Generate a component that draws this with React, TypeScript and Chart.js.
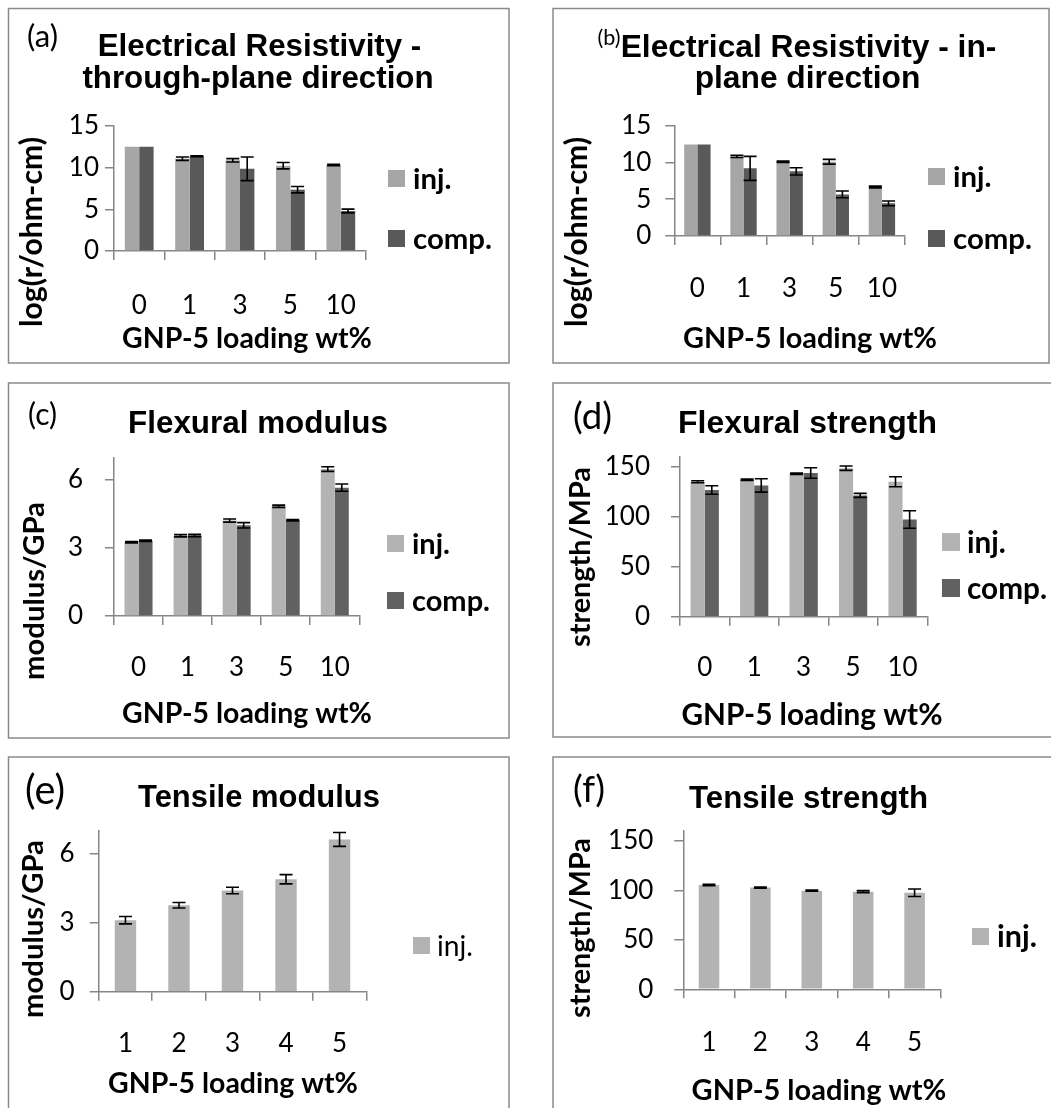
import React, { useEffect, useRef } from "react";
import { Chart, registerables } from "chart.js";
Chart.register(...registerables);

// ---------- data ----------
const resistLoadings = ["0", "1", "3", "5", "10"];
const tensileLoadings = ["1", "2", "3", "4", "5"];

const throughInj = [12.52, 11.08, 10.88, 10.24, 10.32];
const throughInjErr = [0, 0.2, 0.2, 0.38, 0.07];
const throughComp = [12.52, 11.36, 9.86, 7.36, 4.8];
const throughCompErr = [0, 0.05, 1.42, 0.38, 0.22];

const inPlaneInj = [12.46, 10.83, 10.1, 10.1, 6.66];
const inPlaneInjErr = [0, 0.15, 0.1, 0.32, 0.12];
const inPlaneComp = [12.46, 9.2, 8.79, 5.66, 4.44];
const inPlaneCompErr = [0, 1.63, 0.5, 0.45, 0.32];

const flexModInj = [3.25, 3.54, 4.21, 4.84, 6.48];
const flexModInjErr = [0.03, 0.05, 0.07, 0.05, 0.1];
const flexModComp = [3.32, 3.55, 4.0, 4.22, 5.66];
const flexModCompErr = [0.03, 0.05, 0.12, 0.03, 0.16];

const flexStrInj = [135, 137, 143, 148.5, 135];
const flexStrInjErr = [1, 0.7, 0.7, 2.2, 5];
const flexStrComp = [126.7, 131.3, 143.7, 121.3, 97.2];
const flexStrCompErr = [4.3, 6.7, 5.3, 2, 8.8];

const tenModInj = [3.11, 3.76, 4.4, 4.89, 6.62];
const tenModInjErr = [0.16, 0.12, 0.14, 0.2, 0.3];

const tenStrInj = [105.5, 102.8, 99.7, 98.7, 97.6];
const tenStrInjErr = [0.7, 0.5, 0.6, 1, 3.8];

const seriesNames = ["inj.", "comp."];
const xAxisTitle = "GNP-5 loading wt%";

// ---------- styles ----------
const SANS = "Lato, 'Open Sans', sans-serif";
const TITLE_FONT = "'Liberation Sans', Arial, sans-serif";
const AXIS = "#868686";
const FRAME = "#8a8a8a";
const TICK_SIZE = 26;

type Series = { label: string; values: number[]; errors: number[]; color: string };
type Spec = {
  cell: { x: number; y: number; w: number; h: number };
  border: { x1: number; y1: number; x2: number; y2: number };
  area: { left: number; right: number; top: number; bottom: number };
  labels: string[];
  series: Series[];
  yMax: number;
  yStep: number;
  yPad: number;
  xPad: number;
  letter: { text: string; cx: number; cy: number; w: number };
  title: { lines: string[]; cx: number[]; base: number[]; w: number[] };
  yTitle: { text: string; cx: number; cy: number; len: number };
  xTitle: { cx: number; base: number; w: number };
  legend: { x: number; sq: number; tops: number[]; textX: number; bold: boolean; fitText: string; fitW: number };
};

const specs: Spec[] = [
  {
    cell: { x: 0, y: 0, w: 531, h: 372 },
    border: { x1: 8.5, y1: 8.5, x2: 509, y2: 363 },
    area: { left: 114, right: 366, top: 126, bottom: 251 },
    labels: resistLoadings,
    series: [
      { label: seriesNames[0], values: throughInj, errors: throughInjErr, color: "#a6a6a6" },
      { label: seriesNames[1], values: throughComp, errors: throughCompErr, color: "#595959" },
    ],
    yMax: 15, yStep: 5, yPad: 6, xPad: 30,
    letter: { text: "(a)", cx: 42.5, cy: 36.5, w: 31 },
    title: { lines: ["Electrical Resistivity -", "through-plane direction"], cx: [259.5, 258], base: [56, 88], w: [325, 350] },
    yTitle: { text: "log(r/ohm-cm)", cx: 32, cy: 232, len: 190 },
    xTitle: { cx: 247, base: 348, w: 250 },
    legend: { x: 388, sq: 17, tops: [170, 230], textX: 413, bold: true, fitText: "comp.", fitW: 79 },
  },
  {
    cell: { x: 531, y: 0, w: 520, h: 372 },
    border: { x1: 553, y1: 8.5, x2: 1049, y2: 363 },
    area: { left: 674.3, right: 905, top: 125.7, bottom: 236 },
    labels: resistLoadings,
    series: [
      { label: seriesNames[0], values: inPlaneInj, errors: inPlaneInjErr, color: "#a6a6a6" },
      { label: seriesNames[1], values: inPlaneComp, errors: inPlaneCompErr, color: "#595959" },
    ],
    yMax: 15, yStep: 5, yPad: 14, xPad: 28,
    letter: { text: "(b)", cx: 609, cy: 38, w: 23 },
    title: { lines: ["Electrical Resistivity - in-", "plane direction"], cx: [808.5, 807.5], base: [57, 88], w: [377, 225] },
    yTitle: { text: "log(r/ohm-cm)", cx: 577, cy: 232, len: 190 },
    xTitle: { cx: 810, base: 348, w: 254 },
    legend: { x: 928, sq: 17, tops: [168, 230], textX: 953, bold: true, fitText: "comp.", fitW: 79 },
  },
  {
    cell: { x: 0, y: 372, w: 531, h: 375 },
    border: { x1: 8.5, y1: 383, x2: 509, y2: 738 },
    area: { left: 114, right: 359.3, top: 457.3, bottom: 616 },
    labels: resistLoadings,
    series: [
      { label: seriesNames[0], values: flexModInj, errors: flexModInjErr, color: "#b3b3b3" },
      { label: seriesNames[1], values: flexModComp, errors: flexModCompErr, color: "#616161" },
    ],
    yMax: 7, yStep: 3, yPad: 22, xPad: 27,
    letter: { text: "(c)", cx: 42.5, cy: 415.5, w: 29 },
    title: { lines: ["Flexural modulus"], cx: [258], base: [433], w: [260] },
    yTitle: { text: "modulus/GPa", cx: 35, cy: 591, len: 178 },
    xTitle: { cx: 247, base: 723, w: 250 },
    legend: { x: 387, sq: 17, tops: [535, 592], textX: 412, bold: true, fitText: "comp.", fitW: 78 },
  },
  {
    cell: { x: 531, y: 372, w: 520, h: 375 },
    border: { x1: 553, y1: 383, x2: 1070, y2: 737 },
    area: { left: 680, right: 927.3, top: 456.7, bottom: 616.7 },
    labels: resistLoadings,
    series: [
      { label: seriesNames[0], values: flexStrInj, errors: flexStrInjErr, color: "#b3b3b3" },
      { label: seriesNames[1], values: flexStrComp, errors: flexStrCompErr, color: "#616161" },
    ],
    yMax: 160, yStep: 50, yPad: 21, xPad: 26,
    letter: { text: "(d)", cx: 592.5, cy: 417.5, w: 39 },
    title: { lines: ["Flexural strength"], cx: [807.5], base: [433], w: [259] },
    yTitle: { text: "strength/MPa", cx: 581, cy: 557, len: 180 },
    xTitle: { cx: 812, base: 725, w: 261 },
    legend: { x: 942, sq: 18, tops: [533, 579], textX: 967, bold: true, fitText: "comp.", fitW: 80 },
  },
  {
    cell: { x: 0, y: 747, w: 531, h: 361 },
    border: { x1: 8.5, y1: 757, x2: 509, y2: 1130 },
    area: { left: 98.7, right: 366.3, top: 830.7, bottom: 991.7 },
    labels: tensileLoadings,
    series: [{ label: seriesNames[0], values: tenModInj, errors: tenModInjErr, color: "#b3b3b3" }],
    yMax: 7, yStep: 3, yPad: 15, xPad: 27,
    letter: { text: "(e)", cx: 45, cy: 791.5, w: 40 },
    title: { lines: ["Tensile modulus"], cx: [259], base: [807], w: [242] },
    yTitle: { text: "modulus/GPa", cx: 34, cy: 929, len: 178 },
    xTitle: { cx: 233, base: 1093, w: 250 },
    legend: { x: 413, sq: 17, tops: [937], textX: 437, bold: false, fitText: "inj.", fitW: 36 },
  },
  {
    cell: { x: 531, y: 747, w: 520, h: 361 },
    border: { x1: 553, y1: 757, x2: 1070, y2: 1130 },
    area: { left: 683.3, right: 940.3, top: 831, bottom: 989.3 },
    labels: tensileLoadings,
    series: [{ label: seriesNames[0], values: tenStrInj, errors: tenStrInjErr, color: "#b3b3b3" }],
    yMax: 160, yStep: 50, yPad: 21, xPad: 29,
    letter: { text: "(f)", cx: 589, cy: 790.5, w: 32 },
    title: { lines: ["Tensile strength"], cx: [808.5], base: [808], w: [239] },
    yTitle: { text: "strength/MPa", cx: 581, cy: 928, len: 180 },
    xTitle: { cx: 819, base: 1100, w: 255 },
    legend: { x: 972, sq: 17, tops: [928], textX: 997, bold: true, fitText: "inj.", fitW: 40 },
  },
];

// ---------- helpers ----------
function fitSize(ctx: CanvasRenderingContext2D, text: string, width: number, weight: string, family: string) {
  ctx.font = `${weight} 100px ${family}`;
  const m = ctx.measureText(text).width || 1;
  return (100 * width) / m;
}

const errorBarPlugin = {
  id: "errorBars",
  afterDatasetsDraw(chart: any) {
    const ctx: CanvasRenderingContext2D = chart.ctx;
    const ys = chart.scales.y;
    chart.data.datasets.forEach((ds: any, i: number) => {
      const errs: number[] = ds.errors;
      if (!errs) return;
      const meta = chart.getDatasetMeta(i);
      meta.data.forEach((bar: any, j: number) => {
        const v = ds.data[j];
        const e = errs[j];
        if (!e) return;
        const x = bar.x;
        const yt = ys.getPixelForValue(v + e);
        const yb = ys.getPixelForValue(v - e);
        ctx.save();
        ctx.strokeStyle = "#000";
        ctx.lineWidth = 1.6;
        ctx.beginPath();
        ctx.moveTo(x, yt);
        ctx.lineTo(x, yb);
        ctx.moveTo(x - 6.5, yt);
        ctx.lineTo(x + 6.5, yt);
        ctx.moveTo(x - 6.5, yb);
        ctx.lineTo(x + 6.5, yb);
        ctx.stroke();
        ctx.restore();
      });
    });
  },
};

function decorPlugin(spec: Spec) {
  return {
    id: "panelDecor",
    afterDraw(chart: any) {
      const ctx: CanvasRenderingContext2D = chart.ctx;
      const ox = spec.cell.x;
      const oy = spec.cell.y;
      ctx.save();
      ctx.translate(-ox, -oy);
      // frame
      ctx.strokeStyle = FRAME;
      ctx.lineWidth = 1.5;
      const b = spec.border;
      ctx.strokeRect(b.x1, b.y1, b.x2 - b.x1, b.y2 - b.y1);
      ctx.fillStyle = "#000";
      // panel letter
      const ls = fitSize(ctx, spec.letter.text, spec.letter.w, "normal", SANS);
      ctx.font = `normal ${ls}px ${SANS}`;
      ctx.textAlign = "center";
      ctx.textBaseline = "middle";
      ctx.fillText(spec.letter.text, spec.letter.cx, spec.letter.cy);
      // title
      let ts = 0;
      spec.title.lines.forEach((l, i) => (ts += fitSize(ctx, l, spec.title.w[i], "bold", TITLE_FONT)));
      ts /= spec.title.lines.length;
      ctx.font = `bold ${ts}px ${TITLE_FONT}`;
      ctx.textBaseline = "alphabetic";
      spec.title.lines.forEach((l, i) => ctx.fillText(l, spec.title.cx[i], spec.title.base[i]));
      // x axis title
      const xs = fitSize(ctx, xAxisTitle, spec.xTitle.w, "bold", SANS);
      ctx.font = `bold ${xs}px ${SANS}`;
      ctx.fillText(xAxisTitle, spec.xTitle.cx, spec.xTitle.base);
      // y axis title
      const yt = spec.yTitle;
      const yss = fitSize(ctx, yt.text, yt.len, "bold", SANS);
      ctx.save();
      ctx.translate(yt.cx, yt.cy);
      ctx.rotate(-Math.PI / 2);
      ctx.font = `bold ${yss}px ${SANS}`;
      ctx.textBaseline = "middle";
      ctx.fillText(yt.text, 0, 0);
      ctx.restore();
      // legend
      const lg = spec.legend;
      const weight = lg.bold ? "bold" : "normal";
      const lsz = fitSize(ctx, lg.fitText, lg.fitW, weight, SANS);
      ctx.font = `${weight} ${lsz}px ${SANS}`;
      ctx.textAlign = "left";
      ctx.textBaseline = "middle";
      chart.data.datasets.forEach((ds: any, i: number) => {
        const top = lg.tops[i];
        ctx.fillStyle = ds.backgroundColor;
        ctx.fillRect(lg.x, top, lg.sq, lg.sq);
        ctx.fillStyle = "#000";
        ctx.fillText(ds.label, lg.textX, top + lg.sq / 2 + 1);
      });
      ctx.restore();
    },
  };
}

function makeConfig(spec: Spec): any {
  const c = spec.cell;
  const a = spec.area;
  const two = spec.series.length === 2;
  const gridOpts = {
    display: true,
    drawOnChartArea: false,
    drawTicks: true,
    tickLength: 9,
    color: AXIS,
    lineWidth: 1.5,
  };
  return {
    type: "bar",
    data: {
      labels: spec.labels,
      datasets: spec.series.map((s) => ({
        label: s.label,
        data: s.values,
        errors: s.errors,
        backgroundColor: s.color,
        borderWidth: 0,
        categoryPercentage: two ? 2 / 3.5 : 1,
        barPercentage: two ? 1 : 0.4,
      })),
    },
    options: {
      responsive: false,
      animation: false,
      layout: { padding: { left: 0, top: a.top - c.y, right: c.x + c.w - a.right, bottom: 0 } },
      plugins: { legend: { display: false }, title: { display: false }, tooltip: { enabled: false } },
      scales: {
        x: {
          grid: { ...gridOpts, offset: true },
          border: { display: true, color: AXIS, width: 1.5 },
          ticks: { color: "#000", font: { family: SANS, size: TICK_SIZE }, padding: spec.xPad, maxRotation: 0, autoSkip: false },
          afterFit: (s: any) => {
            s.height = c.y + c.h - a.bottom;
          },
        },
        y: {
          min: 0,
          max: spec.yMax,
          grid: gridOpts,
          border: { display: true, color: AXIS, width: 1.5 },
          ticks: { stepSize: spec.yStep, includeBounds: false, padding: spec.yPad, color: "#000", font: { family: SANS, size: TICK_SIZE } },
          afterFit: (s: any) => {
            s.width = a.left - c.x;
          },
        },
      },
    },
    plugins: [errorBarPlugin, decorPlugin(spec)],
  };
}

function Panel({ spec }: { spec: Spec }) {
  const ref = useRef<HTMLCanvasElement>(null);
  useEffect(() => {
    if (!ref.current) return;
    const chart = new Chart(ref.current, makeConfig(spec));
    return () => chart.destroy();
  }, [spec]);
  return (
    <canvas
      ref={ref}
      width={spec.cell.w}
      height={spec.cell.h}
      style={{ position: "absolute", left: spec.cell.x, top: spec.cell.y, width: spec.cell.w, height: spec.cell.h }}
    />
  );
}

export default function App() {
  return (
    <div style={{ position: "fixed", left: 0, top: 0, width: 1051, height: 1108, overflow: "hidden", background: "#fff" }}>
      {specs.map((s, i) => (
        <Panel key={i} spec={s} />
      ))}
    </div>
  );
}
